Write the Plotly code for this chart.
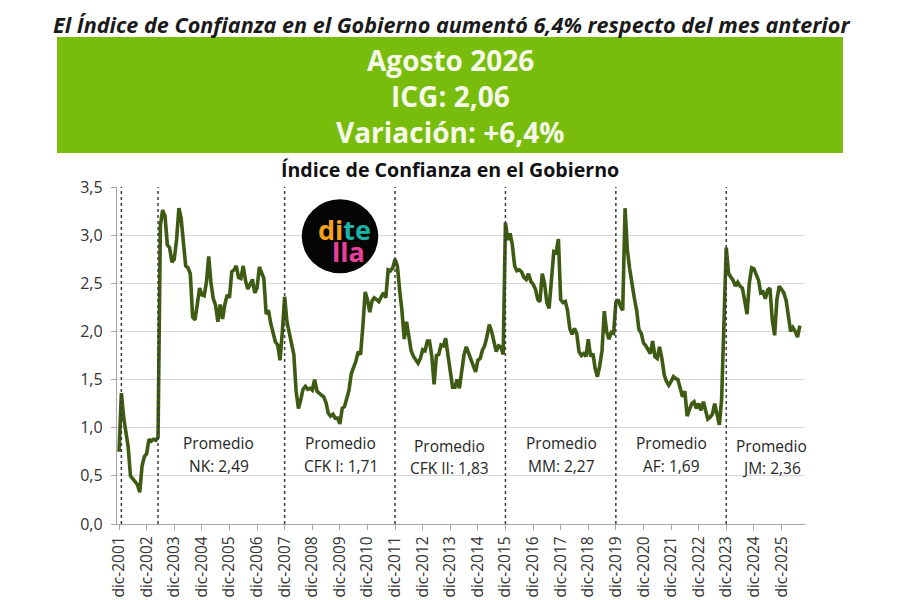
import pandas as pd
import plotly.graph_objects as go

# ---------------- data (monthly ICG) ----------------
icg_2001 = [0.75]  # dic
icg_2002 = [1.36, 1.10, 0.95, 0.80, 0.50, 0.47, 0.45, 0.41, 0.33, 0.60, 0.70, 0.73]
icg_2003 = [0.88, 0.86, 0.88, 0.87, 0.90, 3.10, 3.26, 3.20, 2.90, 2.87, 2.72, 2.75]
icg_2004 = [2.95, 3.28, 3.18, 2.93, 2.68, 2.66, 2.60, 2.15, 2.12, 2.28, 2.45, 2.38]
icg_2005 = [2.37, 2.52, 2.78, 2.50, 2.34, 2.27, 2.10, 2.28, 2.13, 2.28, 2.38, 2.35]
icg_2006 = [2.62, 2.64, 2.68, 2.56, 2.55, 2.68, 2.53, 2.44, 2.49, 2.54, 2.40, 2.45]
icg_2007 = [2.67, 2.59, 2.55, 2.18, 2.22, 2.08, 1.99, 1.89, 1.86, 1.70, 2.00, 2.36]
icg_2008 = [2.10, 1.98, 1.88, 1.76, 1.38, 1.20, 1.29, 1.40, 1.43, 1.40, 1.41, 1.39]
icg_2009 = [1.50, 1.38, 1.36, 1.34, 1.32, 1.26, 1.15, 1.12, 1.14, 1.10, 1.10, 1.04]
icg_2010 = [1.20, 1.22, 1.32, 1.39, 1.56, 1.62, 1.69, 1.79, 1.76, 2.05, 2.41, 2.33]
icg_2011 = [2.20, 2.32, 2.35, 2.33, 2.31, 2.36, 2.40, 2.35, 2.64, 2.63, 2.66, 2.75]
icg_2012 = [2.68, 2.42, 2.22, 1.92, 2.10, 1.95, 1.80, 1.74, 1.70, 1.67, 1.72, 1.81]
icg_2013 = [1.80, 1.90, 1.90, 1.74, 1.45, 1.75, 1.76, 1.86, 1.85, 1.93, 1.75, 1.56]
icg_2014 = [1.42, 1.42, 1.50, 1.41, 1.58, 1.76, 1.84, 1.77, 1.69, 1.64, 1.58, 1.70]
icg_2015 = [1.72, 1.81, 1.85, 1.95, 2.07, 2.00, 1.91, 1.79, 1.85, 1.84, 1.76, 3.13]
icg_2016 = [2.95, 3.02, 2.90, 2.68, 2.63, 2.64, 2.62, 2.56, 2.54, 2.60, 2.52, 2.49]
icg_2017 = [2.44, 2.33, 2.31, 2.60, 2.50, 2.30, 2.24, 2.60, 2.83, 2.82, 2.96, 2.33]
icg_2018 = [2.30, 2.31, 2.22, 2.03, 1.97, 2.03, 1.98, 1.79, 1.75, 1.77, 1.74, 1.92]
icg_2019 = [1.74, 1.77, 1.62, 1.53, 1.64, 1.80, 2.21, 2.00, 1.92, 1.99, 1.98, 2.30]
icg_2020 = [2.33, 2.26, 2.22, 3.28, 2.85, 2.65, 2.48, 2.35, 2.22, 2.02, 1.98, 1.88]
icg_2021 = [1.85, 1.81, 1.77, 1.90, 1.74, 1.72, 1.84, 1.72, 1.55, 1.48, 1.44, 1.48]
icg_2022 = [1.53, 1.51, 1.50, 1.41, 1.32, 1.38, 1.12, 1.19, 1.25, 1.27, 1.20, 1.25]
icg_2023 = [1.18, 1.27, 1.17, 1.09, 1.11, 1.14, 1.25, 1.14, 1.03, 1.30, 2.00, 2.87]
icg_2024 = [2.60, 2.56, 2.53, 2.47, 2.51, 2.47, 2.45, 2.32, 2.18, 2.50, 2.66, 2.65]
icg_2025 = [2.60, 2.53, 2.40, 2.41, 2.34, 2.43, 2.45, 2.12, 1.96, 2.33, 2.47, 2.44]
icg_2026 = [2.40, 2.32, 2.15, 2.00, 2.04, 2.00, 1.94, 2.06]  # ene-ago

series_start = "2001-12-01"

tick_years = list(range(2001, 2026))
tick_dates = [f"{y}-12-01" for y in tick_years]
tick_labels = [f"dic-{y}" for y in tick_years]

# government changes (dotted lines)
period_breaks = ["2002-01-01", "2003-05-01", "2007-12-01", "2011-12-01",
                 "2015-12-01", "2019-12-01", "2023-12-01"]

# period averages
avg_names = ["NK", "CFK I", "CFK II", "MM", "AF", "JM"]
avg_values = ["2,49", "1,71", "1,83", "2,27", "1,69", "2,36"]
avg_dates = ["2005-07-15", "2009-12-15", "2013-11-25", "2017-12-15", "2021-12-13", "2025-07-28"]
avg_y_top = [0.84, 0.84, 0.81, 0.84, 0.84, 0.81]
avg_y_bot = [0.60, 0.60, 0.58, 0.60, 0.60, 0.58]

# ---------------- build ----------------
icg = (icg_2001 + icg_2002 + icg_2003 + icg_2004 + icg_2005 + icg_2006 + icg_2007
       + icg_2008 + icg_2009 + icg_2010 + icg_2011 + icg_2012 + icg_2013 + icg_2014
       + icg_2015 + icg_2016 + icg_2017 + icg_2018 + icg_2019 + icg_2020 + icg_2021
       + icg_2022 + icg_2023 + icg_2024 + icg_2025 + icg_2026)
dates = pd.date_range(series_start, periods=len(icg), freq="MS")

FONT = "Open Sans"
LINE_COLOR = "#3d5b13"

fig = go.Figure()
fig.add_trace(go.Scatter(x=dates, y=icg, mode="lines",
                         line=dict(color=LINE_COLOR, width=3.6),
                         showlegend=False, hoverinfo="skip"))

shapes = []
for d in period_breaks:
    shapes.append(dict(type="line", xref="x", yref="y", x0=d, x1=d, y0=0, y1=3.5,
                       line=dict(color="#3a3a3a", width=1.5, dash="dot"), layer="above"))
# green header box
shapes.append(dict(type="rect", xref="paper", yref="paper",
                   x0=-0.0872, x1=1.0552, y0=1.101, y1=1.445,
                   fillcolor="#78bd0c", line=dict(width=0)))
# logo circle
shapes.append(dict(type="circle", xref="paper", yref="paper",
                   x0=0.2685, x1=0.3798, y0=0.7439, y1=0.9635,
                   fillcolor="#050505", line=dict(width=0), layer="above"))

annotations = []
annotations.append(dict(xref="paper", yref="paper", x=0.4855, y=1.531,
                        text="<b><i>El Índice de Confianza en el Gobierno aumentó 6,4% respecto del mes anterior</i></b>",
                        showarrow=False, font=dict(family=FONT, size=21.6, color="#1a1a1a"),
                        xanchor="center", yanchor="top"))
for txt, yy in [("Agosto 2026", 1.376), ("ICG: 2,06", 1.269), ("Variación: +6,4%", 1.162)]:
    annotations.append(dict(xref="paper", yref="paper", x=0.4843, y=yy, text=f"<b>{txt}</b>",
                            showarrow=False, font=dict(family=FONT, size=28, color="#f6f8ea"),
                            xanchor="center", yanchor="middle"))
annotations.append(dict(xref="paper", yref="paper", x=0.4843, y=1.052,
                        text="<b>Índice de Confianza en el Gobierno</b>",
                        showarrow=False, font=dict(family=FONT, size=19.6, color="#111111"),
                        xanchor="center", yanchor="middle"))
for name, val, d, yt, yb in zip(avg_names, avg_values, avg_dates, avg_y_top, avg_y_bot):
    annotations.append(dict(xref="x", yref="y", x=d, y=yt, text="Promedio", showarrow=False,
                            font=dict(family=FONT, size=15.5, color="#262626"),
                            xanchor="center", yanchor="middle"))
    annotations.append(dict(xref="x", yref="y", x=d, y=yb, text=f"{name}: {val}", showarrow=False,
                            font=dict(family=FONT, size=15.5, color="#262626"),
                            xanchor="center", yanchor="middle"))
# logo letters
annotations.append(dict(xref="paper", yref="paper", x=0.331, y=0.875,
                        text="<b><span style='color:#f6a21c'>di</span><span style='color:#19b3a6'>te</span></b>",
                        showarrow=False, font=dict(family=FONT, size=27),
                        xanchor="center", yanchor="middle"))
annotations.append(dict(xref="paper", yref="paper", x=0.336, y=0.808, text="<b>lla</b>", showarrow=False,
                        font=dict(family=FONT, size=27, color="#ea3f9b"), xanchor="center", yanchor="middle"))

# the page body adds an 8px offset, so the figure is 8px smaller with margins shifted
fig.update_layout(
    width=892, height=592,
    margin=dict(l=109, r=95, t=179, b=76, autoexpand=False),
    paper_bgcolor="white", plot_bgcolor="white",
    separators=",.",
    font=dict(family=FONT, color="#333333"),
    shapes=shapes, annotations=annotations,
    xaxis=dict(type="date", range=["2001-11-04", "2026-10-08"], automargin=False,
               tickmode="array", tickvals=tick_dates, ticktext=tick_labels,
               tickangle=-90, tickfont=dict(family=FONT, size=15.5, color="#333333"),
               showgrid=False, zeroline=False, showline=True, linecolor="#a6a6a6", linewidth=1.3,
               ticks="outside", ticklen=5, tickcolor="#a6a6a6"),
    yaxis=dict(range=[0, 3.5], tick0=0, dtick=0.5, tickformat=".1f", automargin=False,
               tickfont=dict(family=FONT, size=16, color="#333333"), ticklabelstandoff=5,
               showgrid=True, gridcolor="#d9d9d9", gridwidth=1.2, zeroline=False,
               showline=True, linecolor="#a6a6a6", linewidth=1.3,
               ticks="outside", ticklen=5, tickcolor="#a6a6a6"),
)

fig.write_html("out.html")
